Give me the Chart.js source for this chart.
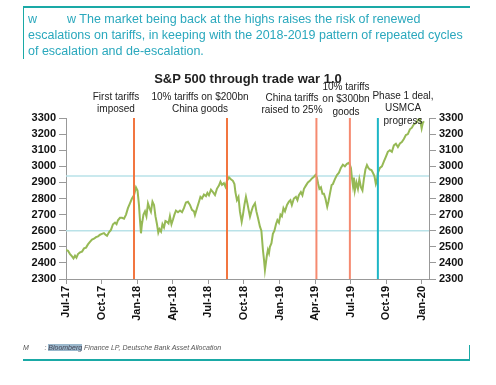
<!DOCTYPE html>
<html>
<head>
<meta charset="utf-8">
<script src="https://cdn.jsdelivr.net/npm/chart.js@4"></script>
<style>
  body { margin: 0; background: #fff; font-family: "Liberation Sans", Arial, sans-serif; }
  #wrap { position: relative; width: 496px; height: 385px; overflow: hidden; }
  #chart { position: absolute; left: 0; top: 0; }
  .box-top { position: absolute; left: 23px; top: 6px; width: 447px; height: 0; border-top: 2px solid #1aa9a6; }
  .box-left { position: absolute; left: 23px; top: 6px; width: 0; height: 53px; border-left: 1px solid #1aa9a6; }
  .head { position: absolute; left: 28px; top: 11px; font-size: 12.5px; line-height: 16px; color: #2aa8bd; white-space: nowrap; }
  .head .gap { display: inline-block; width: 30px; }
  .title { position: absolute; left: 0; width: 496px; top: 71px; text-align: center; font-weight: bold; font-size: 13px; color: #222; }
  .note { position: absolute; font-size: 10px; line-height: 12.3px; color: #222; text-align: center; white-space: nowrap; }
  .foot { position: absolute; left: 23px; top: 344px; font-size: 7px; font-style: italic; color: #555; white-space: nowrap; }
  .foot span.hl { background: #9bb8cc; color: #445; }
  .box-bot { position: absolute; left: 23px; top: 359px; width: 447px; height: 0; border-top: 2px solid #1aa9a6; }
  .box-right { position: absolute; left: 469px; top: 345px; width: 0; height: 15px; border-left: 1px solid #1aa9a6; }
</style>
</head>
<body>
<div id="wrap">
  <canvas id="chart" width="496" height="385"></canvas>
  <div class="box-top"></div>
  <div class="box-left"></div>
  <div class="head">w<span class="gap"></span>w The market being back at the highs raises the risk of renewed<br>escalations on tariffs, in keeping with the 2018-2019 pattern of repeated cycles<br>of escalation and de-escalation.</div>
  <div class="title">S&amp;P 500 through trade war 1.0</div>
  <div class="note" style="left:86px; top:91px; width:60px;">First tariffs<br>imposed</div>
  <div class="note" style="left:150px; top:91px; width:100px;">10% tariffs on $200bn<br>China goods</div>
  <div class="note" style="left:257px; top:92px; width:70px;">China tariffs<br>raised to 25%</div>
  <div class="note" style="left:316px; top:81px; width:60px;">10% tariffs<br>on $300bn<br>goods</div>
  <div class="note" style="left:370px; top:90px; width:66px;">Phase 1 deal,<br>USMCA<br>progress</div>
  <div class="foot">M&nbsp;&nbsp;&nbsp;&nbsp;&nbsp;&nbsp;&nbsp;&nbsp;: <span class="hl">Bloomberg</span> Finance LP, Deutsche Bank Asset Allocation</div>
  <div class="box-bot"></div>
  <div class="box-right"></div>
</div>
<script>
// months since Jul-2017 (position on the time axis)
var months = [
  0, 0.17, 0.34, 0.51, 0.63, 0.76, 0.88, 1.01, 1.18, 1.35, 1.52, 1.69, 1.85, 2.02, 2.19, 2.36, 2.53, 2.70, 2.87, 3.03,
  3.20, 3.33, 3.46, 3.62, 3.79, 3.96, 4.13, 4.26, 4.38, 4.55, 4.72, 4.89, 5.06, 5.22, 5.39, 5.56, 5.73, 5.90, 6.03, 6.15,
  6.24, 6.32, 6.40, 6.53, 6.66, 6.78, 6.91, 7.04, 7.16, 7.29, 7.42, 7.54, 7.67, 7.78, 7.88, 8.01, 8.13, 8.26, 8.38, 8.51,
  8.64, 8.76, 8.89, 9.02, 9.14, 9.27, 9.44, 9.61, 9.78, 9.94, 10.11, 10.28, 10.45, 10.62, 10.79, 10.87, 11.04, 11.21, 11.33, 11.46,
  11.63, 11.80, 11.92, 12.05, 12.22, 12.39, 12.56, 12.72, 12.89, 13.02, 13.15, 13.31, 13.44, 13.57, 13.74, 13.90, 14.07, 14.20, 14.28, 14.41,
  14.54, 14.66, 14.81, 14.92, 15.04, 15.17, 15.29, 15.42, 15.51, 15.63, 15.76, 15.93, 16.05, 16.18, 16.35, 16.47, 16.60, 16.69, 16.77, 16.85,
  16.94, 17.02, 17.11, 17.19, 17.32, 17.44, 17.57, 17.70, 17.82, 17.95, 18.08, 18.20, 18.33, 18.46, 18.63, 18.79, 18.92, 19.04, 19.21, 19.38,
  19.51, 19.63, 19.80, 19.93, 20.06, 20.22, 20.39, 20.56, 20.73, 20.90, 21.03, 21.15, 21.26, 21.36, 21.49, 21.62, 21.74, 21.87, 22.02, 22.12,
  22.25, 22.39, 22.50, 22.67, 22.84, 23.01, 23.17, 23.34, 23.51, 23.68, 23.87, 24.02, 24.10, 24.19, 24.27, 24.35, 24.48, 24.61, 24.73, 24.86,
  24.99, 25.11, 25.24, 25.37, 25.49, 25.62, 25.75, 25.87, 26.00, 26.12, 26.21, 26.29, 26.46, 26.63, 26.80, 26.97, 27.13, 27.30, 27.47, 27.64,
  27.81, 27.98, 28.15, 28.31, 28.48, 28.65, 28.82, 28.99, 29.16, 29.28, 29.41, 29.58, 29.70, 29.83, 29.92, 29.98, 30.08, 30.17
];
var spx = [
  2480, 2475, 2455, 2440, 2428, 2445, 2432, 2455, 2465, 2470, 2490, 2495, 2515, 2530, 2545, 2550, 2560, 2565, 2575, 2580,
  2585, 2575, 2568, 2590, 2605, 2640, 2650, 2640, 2665, 2680, 2680, 2675, 2700, 2740, 2770, 2800, 2820, 2869, 2850, 2760,
  2660, 2584, 2640, 2700, 2720, 2690, 2770, 2740, 2718, 2780, 2760, 2690, 2640, 2588, 2610, 2595, 2640, 2620, 2660, 2655,
  2645, 2690, 2640, 2670, 2700, 2725, 2715, 2725, 2715, 2740, 2775, 2780, 2760, 2730, 2720, 2697, 2740, 2780, 2810, 2800,
  2825, 2815, 2835, 2820, 2855, 2840, 2822, 2860, 2880, 2904, 2885, 2895, 2873, 2910, 2931, 2920, 2910, 2890, 2840, 2790,
  2810, 2720, 2656, 2700, 2760, 2811, 2770, 2720, 2687, 2720, 2750, 2770, 2720, 2680, 2625, 2600, 2480, 2420, 2356, 2400,
  2450, 2480, 2460, 2500, 2522, 2580, 2600, 2640, 2666, 2650, 2700, 2690, 2740, 2720, 2760, 2780, 2790, 2760, 2800, 2810,
  2790, 2820, 2840, 2820, 2860, 2880, 2900, 2910, 2925, 2935, 2946, 2930, 2890, 2860, 2870, 2830, 2830, 2800, 2749, 2780,
  2830, 2884, 2890, 2920, 2946, 2960, 2990, 3010, 3000, 3015, 3022, 2990, 2930, 2880, 2930, 2850, 2900, 2860, 2920, 2870,
  2850, 2920, 2980, 3008, 2990, 2980, 2977, 2960, 2940, 2890, 2910, 2960, 2990, 3000, 3030, 3060, 3090, 3100, 3090, 3130,
  3140, 3120, 3142, 3150, 3170, 3194, 3200, 3230, 3240, 3256, 3265, 3275, 3290, 3295, 3260, 3236, 3270, 3280
];

var tickMonths = [0, 3, 6, 9, 12, 15, 18, 21, 24, 27, 30];
var tickLabels = ["Jul-17", "Oct-17", "Jan-18", "Apr-18", "Jul-18", "Oct-18", "Jan-19", "Apr-19", "Jul-19", "Oct-19", "Jan-20"];

// event lines (month position) and reference levels
var tariffEvents = [5.73, 13.57, 21.11, 23.93];
var dealEvent = 26.29;
var refLevels = [2940, 2600];

var xMax = 30.6;
var yMin = 2300, yMax = 3300;

var points = months.map(function(m, i){ return {x: m, y: spx[i]}; });

var datasets = [];
refLevels.forEach(function(lv){
    datasets.push({
        data: [{x: 0, y: lv}, {x: xMax, y: lv}],
        borderColor: '#b9e2e8', borderWidth: 1.5, pointRadius: 0, order: 3
    });
});
datasets.push({
    data: points, borderColor: '#96b955', borderWidth: 2, pointRadius: 0,
    tension: 0, order: 2
});
var tariffColors = ['#f27640', '#f27640', '#f58a70', '#f58a70'];
tariffEvents.forEach(function(m, i){
    datasets.push({
        data: [{x: m, y: yMin}, {x: m, y: yMax}],
        borderColor: tariffColors[i], borderWidth: 2, pointRadius: 0, order: 1
    });
});
datasets.push({
    data: [{x: dealEvent, y: yMin}, {x: dealEvent, y: yMax}],
    borderColor: '#1db6c6', borderWidth: 2, pointRadius: 0, order: 1
});

var tickFont = {family: '"Liberation Sans", Arial, sans-serif', size: 11, weight: 'bold'};

function yAxis(pos, w){
    return {
        type: 'linear', position: pos, min: yMin, max: yMax,
        afterFit: function(s){ s.width = w; },
        ticks: {
            stepSize: 100, autoSkip: false, color: '#111', font: tickFont, padding: 3,
            callback: function(v){ return String(v); }
        },
        grid: {drawOnChartArea: false, drawTicks: true, tickLength: 7, color: '#999'},
        border: {color: '#999'}
    };
}

new Chart(document.getElementById('chart'), {
    type: 'line',
    data: {datasets: datasets},
    options: {
        responsive: false,
        animation: false,
        parsing: false,
        layout: {padding: {top: 118, left: 0, right: 0, bottom: 0}},
        plugins: {legend: {display: false}, tooltip: {enabled: false}},
        scales: {
            x: {
                type: 'linear', min: 0, max: xMax,
                afterFit: function(s){ s.height = 106; },
                afterBuildTicks: function(s){
                    s.ticks = tickMonths.map(function(v){ return {value: v}; });
                },
                ticks: {
                    color: '#111', font: tickFont, minRotation: 90, maxRotation: 90, padding: 2,
                    autoSkip: false,
                    callback: function(v){
                        var i = tickMonths.indexOf(v);
                        return i >= 0 ? tickLabels[i] : '';
                    }
                },
                grid: {drawOnChartArea: false, drawTicks: true, tickLength: 5, color: '#999'},
                border: {color: '#999'}
            },
            y: yAxis('left', 66),
            y2: yAxis('right', 67)
        }
    }
});
</script>
</body>
</html>
